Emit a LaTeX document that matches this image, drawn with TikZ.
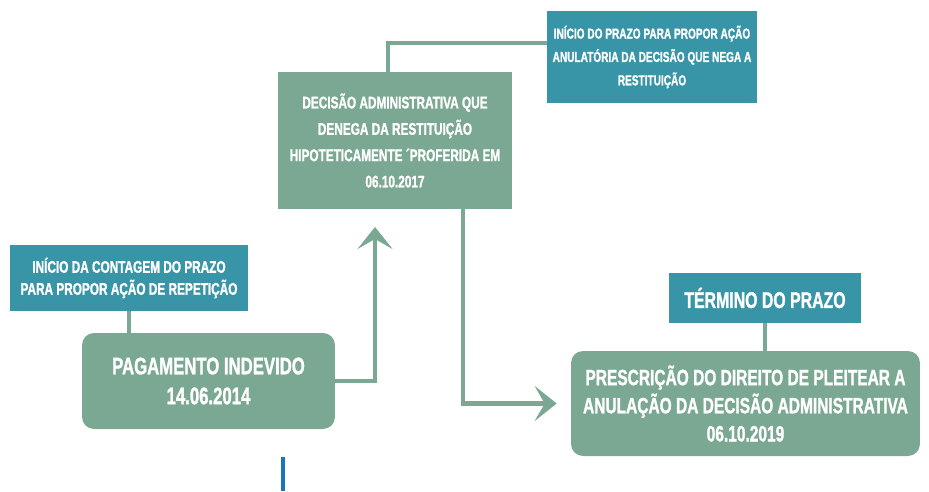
\documentclass[tikz,border=0pt]{standalone}
\usepackage{fontspec}
\setmainfont{Liberation Sans}[FakeStretch=0.7, BoldFeatures={FakeBold=1.2}]
\usetikzlibrary{arrows.meta, positioning}
\usepackage{xcolor}
\definecolor{verde}{RGB}{123, 168, 146}
\definecolor{petroleo}{RGB}{55, 149, 167}
\definecolor{azul}{RGB}{27, 117, 187}

\begin{document}
\begin{tikzpicture}[
        x=0.02cm, y=-0.02cm,
        etapa/.style={rectangle, fill=verde, text=white, inner sep=0pt,
                      align=center, font=\bfseries\fontsize{13.6}{17}\selectfont},
        marco/.style={rectangle, fill=petroleo, text=white, inner sep=0pt,
                      align=center, font=\bfseries\fontsize{9.6}{12.5}\selectfont},
        ligacao/.style={draw=verde, line width=2.3pt},
        seta/.style={ligacao, -{Stealth[length=0.44cm, width=0.7cm, inset=0.2cm]}},
    ]
        \useasboundingbox (0,0) rectangle (929,491);

        % marcos do prazo
        \node[marco, minimum width=4.76cm, minimum height=1.32cm] (inicioRep) at (129,278)
            {INÍCIO DA CONTAGEM DO PRAZO\\PARA PROPOR AÇÃO DE REPETIÇÃO};
        \node[marco, minimum width=4.2cm, minimum height=1.84cm,
              font=\bfseries\fontsize{8.2}{13.3}\selectfont] (inicioAnul) at (652,57)
            {INÍCIO DO PRAZO PARA PROPOR AÇÃO\\ANULATÓRIA DA DECISÃO QUE NEGA A\\RESTITUIÇÃO};
        \node[marco, minimum width=3.84cm, minimum height=1cm,
              font=\bfseries\fontsize{12.9}{14}\selectfont] (termino) at (765,298)
            {TÉRMINO DO PRAZO};

        % etapas
        \node[etapa, rounded corners=0.24cm, minimum width=5.06cm, minimum height=1.92cm] (pagamento) at (208.5,381)
            {PAGAMENTO INDEVIDO\\14.06.2014};
        \node[etapa, minimum width=4.68cm, minimum height=2.74cm,
              font=\bfseries\fontsize{9.6}{15}\selectfont] (decisao) at (395,140.5)
            {DECISÃO ADMINISTRATIVA QUE\\DENEGA DA RESTITUIÇÃO\\HIPOTETICAMENTE ´PROFERIDA EM\\06.10.2017};
        \node[etapa, rounded corners=0.24cm, minimum width=6.98cm, minimum height=2.1cm,
              font=\bfseries\fontsize{12.6}{16}\selectfont] (prescricao) at (745.5,403.5)
            {PRESCRIÇÃO DO DIREITO DE PLEITEAR A\\ANULAÇÃO DA DECISÃO ADMINISTRATIVA\\06.10.2019};

        \coordinate (topo) at (375,227);
        \coordinate (traco) at (283,457);

        \draw[ligacao] (inicioRep.south) -- (inicioRep.south |- pagamento.north);
        \draw[seta] (pagamento.east) -| (topo);
        \draw[ligacao] ([xshift=-0.14cm]decisao.north) |- ([yshift=0.28cm]inicioAnul.west);
        \draw[seta, shorten >=0.28cm] ([xshift=1.36cm]decisao.south) |- (prescricao.west);
        \draw[ligacao] (termino.south) -- (termino.south |- prescricao.north);

        \draw[draw=azul, line width=2.3pt] (traco) -- ++(0,34);

    \end{tikzpicture}
\end{document}
